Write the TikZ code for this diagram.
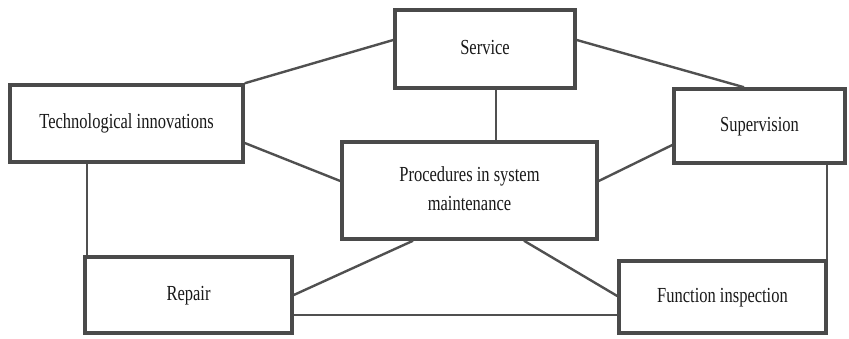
\documentclass[tikz,border=0pt]{standalone}
\usepackage{fontspec}
\setmainfont{Liberation Serif}
\usetikzlibrary{calc}
\definecolor{boxline}{HTML}{4A4A4A}
\definecolor{conline}{HTML}{505050}
\newcommand{\stretchtxt}[1]{\scalebox{1}[1.3]{\begin{tabular}{@{}c@{}}#1\end{tabular}}}
\tikzset{
  box/.style={draw=boxline, line width=3.5pt, rectangle, inner sep=0pt, fill=white,
    font=\fontsize{16.5}{20}\selectfont, text=black!90},
  thick con/.style={draw=conline, line width=2.4pt},
  thin con/.style={draw=conline, line width=1.4pt},
}
\begin{document}
\begin{tikzpicture}[x=1pt,y=1pt]
\useasboundingbox (0,0) rectangle (849,338);
\node[box, minimum width=180pt, minimum height=78pt] (service) at (485,289) {\stretchtxt{Service}};
\node[box, minimum width=233pt, minimum height=77pt] (tech) at (126.5,214.5) {\stretchtxt{Technological innovations}};
\node[box, minimum width=171pt, minimum height=74pt] (sup) at (759.5,212) {\stretchtxt{Supervision}};
\node[box, minimum width=255pt, minimum height=97pt] (proc) at (469.5,147.5) {\stretchtxt{Procedures in system\\[2pt] maintenance}};
\node[box, minimum width=207pt, minimum height=76pt] (repair) at (188.5,43) {\stretchtxt{Repair}};
\node[box, minimum width=207pt, minimum height=72pt] (func) at (722.5,41) {\stretchtxt{Function inspection}};
\draw[thick con] (tech.north east) -- ([yshift=9pt]service.west);
\draw[thick con] ([yshift=9pt]service.east) -- ([xshift=-15.5pt]sup.north);
\draw[thick con] ([xshift=11pt]service.south) -- ([xshift=11pt]service.south |- proc.north);
\draw[thick con] ([yshift=-19.5pt]tech.east) -- ([yshift=9.5pt]proc.west);
\draw[thick con] ([yshift=-19pt]sup.west) -- ([yshift=9.5pt]proc.east);
\draw[thin con] ([xshift=-39.5pt]tech.south) -- ([xshift=-39.5pt]tech.south |- repair.north);
\draw[thin con] ([xshift=67.5pt]sup.south) -- ([xshift=67.5pt]sup.south |- func.north);
\draw[thick con] ([xshift=-56.5pt]proc.south) -- (repair.east);
\draw[thick con] ([xshift=54.5pt]proc.south) -- ([yshift=1pt]func.west);
\draw[thin con] ([yshift=-20pt]repair.east) -- ([yshift=-20pt]repair.east -| func.west);
\end{tikzpicture}
\end{document}
